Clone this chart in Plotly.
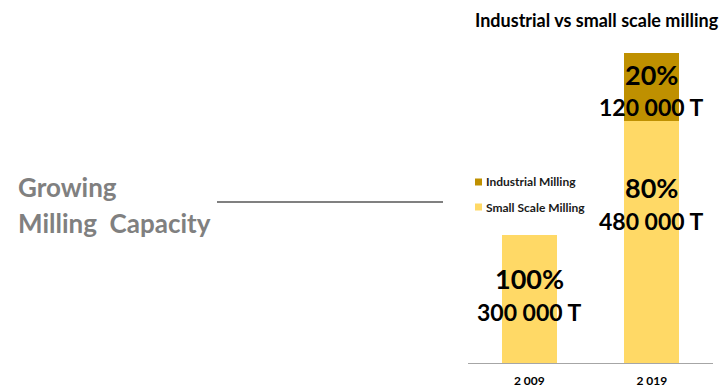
import plotly.graph_objects as go

years = ["2 009", "2 019"]
small_scale = [300000, 567000]
industrial = [0, 159000]
pct_small = ["100%", "80%"]
tonnes_small = ["300 000 T", "480 000 T"]
pct_ind = ["", "20%"]
tonnes_ind = ["", "120 000 T"]
series_names = ["Industrial Milling", "Small Scale Milling"]
series_colors = ["#BF9000", "#FFD966"]

FONT = "Lato"
H = 387.0
W = 724.0
BOT = 24
PH = H - BOT


def py(p):
    return (PH - p) / PH


fig = go.Figure()
fig.add_trace(go.Bar(x=years, y=small_scale, name=series_names[1], showlegend=False,
                     marker=dict(color=series_colors[1], line=dict(width=0)), width=0.45))
fig.add_trace(go.Bar(x=years, y=industrial, name=series_names[0], showlegend=False,
                     marker=dict(color=series_colors[0], line=dict(width=0)), width=0.45))

pos_small = [(278, 312), (187, 221)]
for i, yr in enumerate(years):
    p, t = pos_small[i]
    fig.add_annotation(x=yr, xref="x", y=py(p), yref="paper", yanchor="middle", xanchor="center",
                       text=f"<b>{pct_small[i]}</b>", showarrow=False,
                       font=dict(family=FONT, size=27, color="black"))
    fig.add_annotation(x=yr, xref="x", y=py(t), yref="paper", yanchor="middle", xanchor="center",
                       text=f"<b>{tonnes_small[i]}</b>", showarrow=False,
                       font=dict(family=FONT, size=23, color="black"))
    if pct_ind[i]:
        fig.add_annotation(x=yr, xref="x", y=py(75), yref="paper", yanchor="middle", xanchor="center",
                           text=f"<b>{pct_ind[i]}</b>", showarrow=False,
                           font=dict(family=FONT, size=27, color="black"))
        fig.add_annotation(x=yr, xref="x", y=py(107), yref="paper", yanchor="middle", xanchor="center",
                           text=f"<b>{tonnes_ind[i]}</b>", showarrow=False,
                           font=dict(family=FONT, size=23, color="black"))

# manual legend
leg_y = [182, 207]
for name, col, yy in zip(series_names, series_colors, leg_y):
    fig.add_shape(type="rect", xref="paper", yref="paper", x0=475 / W, x1=482 / W,
                  y0=py(yy + 3.5), y1=py(yy - 3.5), fillcolor=col, line=dict(width=0))
    fig.add_annotation(x=484 / W, y=py(yy), xref="paper", yref="paper", xanchor="left", yanchor="middle",
                       text=f"<b>{name}</b>", showarrow=False,
                       font=dict(family=FONT, size=12, color="#1a1a1a"))

fig.add_annotation(x=597 / W, y=py(20), xref="paper", yref="paper", xanchor="center", yanchor="middle",
                   text="<b>Industrial vs small scale milling</b>", showarrow=False,
                   font=dict(family=FONT, size=18, color="black"))
fig.add_annotation(x=16 / W, y=py(187), xref="paper", yref="paper", xanchor="left", yanchor="middle",
                   text="<b>Growing</b>", showarrow=False, font=dict(family=FONT, size=26, color="#808080"))
fig.add_annotation(x=16 / W, y=py(223), xref="paper", yref="paper", xanchor="left", yanchor="middle",
                   text="<b>Milling\u00a0 Capacity</b>", showarrow=False,
                   font=dict(family=FONT, size=26, color="#808080"))
fig.add_shape(type="line", xref="paper", yref="paper", x0=217 / W, x1=443 / W,
              y0=py(202), y1=py(202), line=dict(color="#808080", width=2))

fig.update_layout(
    width=724, height=387, barmode="stack",
    margin=dict(l=0, r=0, t=0, b=BOT),
    plot_bgcolor="white", paper_bgcolor="white",
    font=dict(family=FONT),
    showlegend=False,
    xaxis=dict(domain=[468 / W, 713 / W], range=[-0.5, 1.5], showline=True, linecolor="#A6A6A6",
               linewidth=1, tickfont=dict(family=FONT, size=12, color="black"), ticks="",
               ticklabelstandoff=7, tickprefix="<b>", ticksuffix="</b>"),
    yaxis=dict(range=[0, 850000], visible=False, showgrid=False),
)
fig.write_html("out.html", config={"displayModeBar": False},
               post_script="document.body.style.margin='0';")
